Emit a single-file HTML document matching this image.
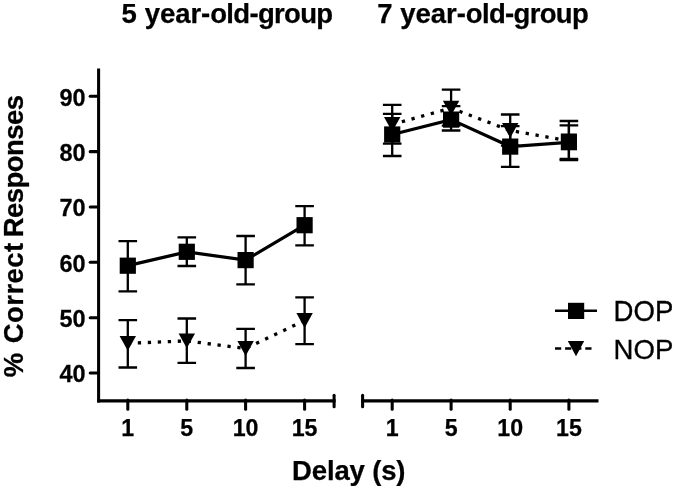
<!DOCTYPE html>
<html><head><meta charset="utf-8"><title>Chart</title>
<style>html,body{margin:0;padding:0;background:#fff}svg{display:block}</style></head>
<body>
<svg width="675" height="489" viewBox="0 0 675 489">
<rect width="675" height="489" fill="#fff"/>
<defs><filter id="soft" x="-5%" y="-5%" width="110%" height="110%"><feGaussianBlur stdDeviation="0.45"/></filter></defs>
<g filter="url(#soft)">
<g stroke="#000" stroke-width="3.05" fill="none">
<path d="M98.6 68.4V402.4"/>
<path d="M97.1 400.9H335.6" stroke-width="3.2"/>
<path d="M334.1 395.2V406.8" stroke-linecap="round"/>
<path d="M361.1 400.9H598.5" stroke-width="3.2"/>
<path d="M362.6 395.2V406.8" stroke-linecap="round"/>
<path d="M90.2 96.30H98" stroke-linecap="round"/>
<path d="M90.2 151.64H98" stroke-linecap="round"/>
<path d="M90.2 206.98H98" stroke-linecap="round"/>
<path d="M90.2 262.32H98" stroke-linecap="round"/>
<path d="M90.2 317.66H98" stroke-linecap="round"/>
<path d="M90.2 373.00H98" stroke-linecap="round"/>
<path d="M127.8 400V409.2" stroke-linecap="round"/>
<path d="M186.8 400V409.2" stroke-linecap="round"/>
<path d="M245.6 400V409.2" stroke-linecap="round"/>
<path d="M304.6 400V409.2" stroke-linecap="round"/>
<path d="M392.2 400V409.2" stroke-linecap="round"/>
<path d="M451.1 400V409.2" stroke-linecap="round"/>
<path d="M510.2 400V409.2" stroke-linecap="round"/>
<path d="M568.9 400V409.2" stroke-linecap="round"/>
</g>
<g font-family="'Liberation Sans', sans-serif" font-weight="bold" font-size="23.5" fill="#000" stroke="#000" stroke-width="0.25">
<text transform="translate(85.6 105.5) scale(1 1.015)" text-anchor="end">90</text>
<text transform="translate(85.6 160.8) scale(1 1.015)" text-anchor="end">80</text>
<text transform="translate(85.6 216.2) scale(1 1.015)" text-anchor="end">70</text>
<text transform="translate(85.6 271.5) scale(1 1.015)" text-anchor="end">60</text>
<text transform="translate(85.6 326.9) scale(1 1.015)" text-anchor="end">50</text>
<text transform="translate(85.6 382.2) scale(1 1.015)" text-anchor="end">40</text>
<text transform="translate(127.8 435.8) scale(1 1.0)" text-anchor="middle" font-size="23.2">1</text>
<text transform="translate(186.8 435.8) scale(1 1.0)" text-anchor="middle" font-size="23.2">5</text>
<text transform="translate(245.6 435.8) scale(1 1.0)" text-anchor="middle" font-size="23.2">10</text>
<text transform="translate(304.6 435.8) scale(1 1.0)" text-anchor="middle" font-size="23.2">15</text>
<text transform="translate(392.2 435.8) scale(1 1.0)" text-anchor="middle" font-size="23.2">1</text>
<text transform="translate(451.1 435.8) scale(1 1.0)" text-anchor="middle" font-size="23.2">5</text>
<text transform="translate(510.2 435.8) scale(1 1.0)" text-anchor="middle" font-size="23.2">10</text>
<text transform="translate(568.9 435.8) scale(1 1.0)" text-anchor="middle" font-size="23.2">15</text>
</g>
<g font-family="'Liberation Sans', sans-serif" font-weight="bold" font-size="27.5" letter-spacing="-0.29" fill="#000" stroke="#000" stroke-width="0.25">
<text transform="translate(227.0 22.7) scale(1 1.0)" text-anchor="middle" word-spacing="0.3"><tspan letter-spacing="-0.05">5 year-</tspan><tspan letter-spacing="-0.68">old-group</tspan></text>
<text transform="translate(482.6 22.7) scale(1 1.0)" text-anchor="middle" word-spacing="0.3"><tspan letter-spacing="-0.05">7 year-</tspan><tspan letter-spacing="-0.68">old-group</tspan></text>
<text x="348.7" y="479.7" text-anchor="middle" letter-spacing="-0.15">Delay (s)</text>
<text transform="translate(22.6 377.3) rotate(-90)" letter-spacing="0">%</text>
<text transform="translate(22.6 343.3) rotate(-90)" letter-spacing="0.45">Correct</text>
<text transform="translate(22.6 237.3) rotate(-90)" letter-spacing="-0.55">Responses</text>
</g>
<path d="M127.8 320.1V367.5M118.5 320.1H137.1M118.5 367.5H137.1" stroke="#000" stroke-width="2.3" fill="none"/>
<path d="M186.8 318.5V362.9M177.5 318.5H196.1M177.5 362.9H196.1" stroke="#000" stroke-width="2.3" fill="none"/>
<path d="M245.6 328.9V368.0M236.3 328.9H254.9M236.3 368.0H254.9" stroke="#000" stroke-width="2.3" fill="none"/>
<path d="M304.6 297.4V344.1M295.3 297.4H313.9M295.3 344.1H313.9" stroke="#000" stroke-width="2.3" fill="none"/>
<polyline points="127.8,343.3 186.8,340.9 245.6,348.5 304.6,320.5" fill="none" stroke="#000" stroke-width="3.3" stroke-dasharray="3.3 6.7"/>
<path d="M119.6 335.9H136.0L127.8 350.7Z" fill="#000"/>
<path d="M178.6 333.5H195.0L186.8 348.3Z" fill="#000"/>
<path d="M237.4 341.1H253.8L245.6 355.9Z" fill="#000"/>
<path d="M296.4 313.1H312.8L304.6 327.9Z" fill="#000"/>
<path d="M127.8 241.2V291.4M118.5 241.2H137.1M118.5 291.4H137.1" stroke="#000" stroke-width="2.3" fill="none"/>
<path d="M186.8 237.4V266.0M177.5 237.4H196.1M177.5 266.0H196.1" stroke="#000" stroke-width="2.3" fill="none"/>
<path d="M245.6 236.0V284.4M236.3 236.0H254.9M236.3 284.4H254.9" stroke="#000" stroke-width="2.3" fill="none"/>
<path d="M304.6 206.2V245.3M295.3 206.2H313.9M295.3 245.3H313.9" stroke="#000" stroke-width="2.3" fill="none"/>
<polyline points="127.8,265.7 186.8,251.8 245.6,260.1 304.6,225.2" fill="none" stroke="#000" stroke-width="3.25"/>
<rect x="119.7" y="257.6" width="16.2" height="16.2" fill="#000"/>
<rect x="178.7" y="243.7" width="16.2" height="16.2" fill="#000"/>
<rect x="237.5" y="252.0" width="16.2" height="16.2" fill="#000"/>
<rect x="296.5" y="217.1" width="16.2" height="16.2" fill="#000"/>
<path d="M392.2 104.9V143.6M382.9 104.9H401.5M382.9 143.6H401.5" stroke="#000" stroke-width="2.3" fill="none"/>
<path d="M451.1 89.6V125.7M441.8 89.6H460.4M441.8 125.7H460.4" stroke="#000" stroke-width="2.3" fill="none"/>
<path d="M510.2 114.5V145.7M500.9 114.5H519.5M500.9 145.7H519.5" stroke="#000" stroke-width="2.3" fill="none"/>
<path d="M568.9 121.0V160.2M559.6 121.0H578.2M559.6 160.2H578.2" stroke="#000" stroke-width="2.3" fill="none"/>
<polyline points="392.2,124.4 451.1,108.1 510.2,130.5 568.9,140.9" fill="none" stroke="#000" stroke-width="3.3" stroke-dasharray="3.3 6.7"/>
<path d="M384.0 117.0H400.4L392.2 131.8Z" fill="#000"/>
<path d="M442.9 100.7H459.3L451.1 115.5Z" fill="#000"/>
<path d="M502.0 123.1H518.4L510.2 137.9Z" fill="#000"/>
<path d="M560.7 133.5H577.1L568.9 148.3Z" fill="#000"/>
<path d="M392.2 113.9V156.0M382.9 113.9H401.5M382.9 156.0H401.5" stroke="#000" stroke-width="2.3" fill="none"/>
<path d="M451.1 106.2V130.5M441.8 106.2H460.4M441.8 130.5H460.4" stroke="#000" stroke-width="2.3" fill="none"/>
<path d="M510.2 126.2V166.8M500.9 126.2H519.5M500.9 166.8H519.5" stroke="#000" stroke-width="2.3" fill="none"/>
<path d="M568.9 125.4V159.0M559.6 125.4H578.2M559.6 159.0H578.2" stroke="#000" stroke-width="2.3" fill="none"/>
<polyline points="392.2,134.5 451.1,119.6 510.2,146.6 568.9,142.2" fill="none" stroke="#000" stroke-width="3.25"/>
<rect x="384.1" y="126.4" width="16.2" height="16.2" fill="#000"/>
<rect x="443.0" y="111.5" width="16.2" height="16.2" fill="#000"/>
<rect x="502.1" y="138.5" width="16.2" height="16.2" fill="#000"/>
<rect x="560.8" y="134.1" width="16.2" height="16.2" fill="#000"/>
<path d="M555 310.7H597" stroke="#000" stroke-width="2.5" stroke-linecap="butt"/>
<rect x="568.0" y="302.8" width="16.2" height="16.2" fill="#000"/>
<path d="M555 348.6H592" stroke="#000" stroke-width="2.5" stroke-dasharray="6.2 3.9"/>
<path d="M567.8 341.0H584.2L576.0 356.2Z" fill="#000"/>
<g font-family="'Liberation Sans', sans-serif" font-size="27.6" fill="#000" stroke="#000" stroke-width="0.3">
<text transform="translate(613.6 320.7) scale(1 1.045)">DOP</text>
<text transform="translate(613.6 358.6) scale(1 1.03)">NOP</text>
</g>
</g>
</svg>
</body></html>
